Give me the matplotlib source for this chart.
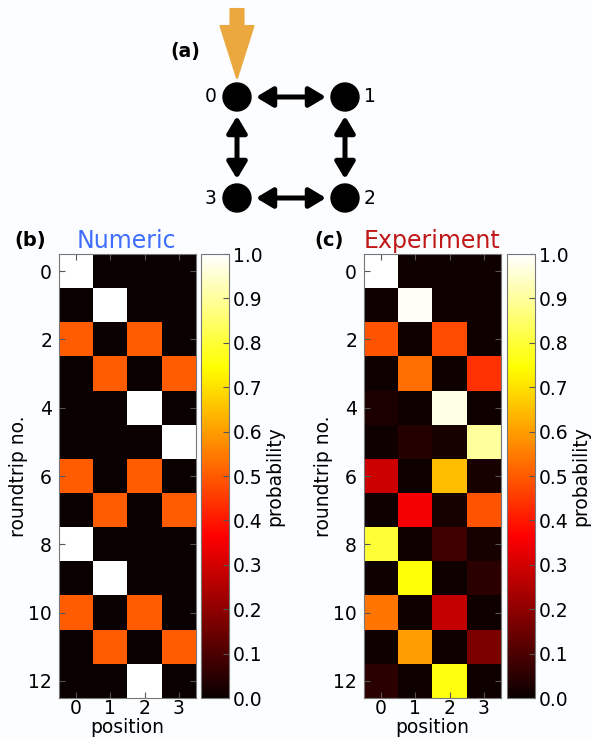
import numpy as np
import matplotlib
matplotlib.use("Agg")
import matplotlib.pyplot as plt
from matplotlib.patches import FancyArrowPatch, Circle, FancyArrow

# ---------------- data ----------------
positions = [0, 1, 2, 3]
roundtrips = list(range(13))
ytick_vals = [0, 2, 4, 6, 8, 10, 12]
cbar_ticks = [0.0, 0.1, 0.2, 0.3, 0.4, 0.5, 0.6, 0.7, 0.8, 0.9, 1.0]

numeric = [
    [1.0, 0.0, 0.0, 0.0],
    [0.0, 1.0, 0.0, 0.0],
    [0.5, 0.0, 0.5, 0.0],
    [0.0, 0.5, 0.0, 0.5],
    [0.0, 0.0, 1.0, 0.0],
    [0.0, 0.0, 0.0, 1.0],
    [0.5, 0.0, 0.5, 0.0],
    [0.0, 0.5, 0.0, 0.5],
    [1.0, 0.0, 0.0, 0.0],
    [0.0, 1.0, 0.0, 0.0],
    [0.5, 0.0, 0.5, 0.0],
    [0.0, 0.5, 0.0, 0.5],
    [0.0, 0.0, 1.0, 0.0],
]

experiment = [
    [1.00, 0.01, 0.01, 0.01],
    [0.01, 0.99, 0.01, 0.01],
    [0.49, 0.01, 0.48, 0.01],
    [0.01, 0.53, 0.01, 0.44],
    [0.03, 0.01, 0.97, 0.01],
    [0.01, 0.04, 0.02, 0.90],
    [0.29, 0.01, 0.65, 0.02],
    [0.01, 0.35, 0.02, 0.49],
    [0.80, 0.01, 0.08, 0.02],
    [0.01, 0.75, 0.01, 0.05],
    [0.54, 0.01, 0.28, 0.01],
    [0.01, 0.60, 0.01, 0.17],
    [0.05, 0.01, 0.76, 0.01],
]

node_labels = ["0", "1", "2", "3"]
# grid layout of the ring (column, row)
node_grid = [(0, 0), (1, 0), (1, 1), (0, 1)]
edges = [(0, 1), (1, 2), (2, 3), (3, 0)]

# ---------------- figure ----------------
W, H = 592, 738
bg = "#fbfdff"
fig = plt.figure(figsize=(W / 100, H / 100), dpi=100, facecolor=bg)
FS = 13.5

# ---- panel (a): ring diagram ----
axd = fig.add_axes([0, 1 - 230 / H, 1, 230 / H])
axd.set_xlim(0, W)
axd.set_ylim(230, 0)
axd.axis("off")
axd.set_facecolor(bg)

x0, y0, dx, dy, r = 237, 97, 108, 101, 14
xy = [(x0 + c * dx, y0 + rr * dy) for c, rr in node_grid]
for (px, py) in xy:
    axd.add_patch(Circle((px, py), r, color="black", zorder=3))

for a, b in edges:
    (xa, ya), (xb, yb) = xy[a], xy[b]
    L = np.hypot(xb - xa, yb - ya)
    ux, uy = (xb - xa) / L, (yb - ya) / L
    gap = r + 5
    axd.add_patch(FancyArrowPatch((xa + ux * gap, ya + uy * gap),
                                  (xb - ux * gap, yb - uy * gap),
                                  arrowstyle="<|-|>,head_length=10,head_width=6",
                                  mutation_scale=1, lw=3.6, color="black",
                                  shrinkA=0, shrinkB=0, zorder=2))

# label offsets
offs = [(-26, 0), (25, 0), (25, 0), (-26, 0)]
for (px, py), lab, (ox, oy) in zip(xy, node_labels, offs):
    axd.text(px + ox, py + oy, lab, fontsize=FS, ha="center", va="center")

# orange input arrow
axd.add_patch(FancyArrow(x0, 9, 0, 69, width=13, head_width=33, head_length=52,
                         length_includes_head=True, color="#eba83f", lw=1.5,
                         joinstyle="round", zorder=4))
axd.text(185, 52, "(a)", fontsize=FS, fontweight="bold", ha="center", va="center")


def heat(left, cleft, data, title, tcolor, tag, tagx, titlex):
    ax = fig.add_axes([left / W, 1 - 698 / H, 137 / W, 444 / H])
    cax = fig.add_axes([cleft / W, 1 - 698 / H, 28 / W, 444 / H])
    im = ax.imshow(np.array(data), cmap="hot", vmin=0, vmax=1,
                   aspect="auto", interpolation="nearest")
    ax.set_xticks(positions)
    ax.set_yticks(ytick_vals)
    ax.tick_params(direction="in", top=True, right=True, labelsize=FS,
                   length=4, color="#555555")
    ax.tick_params(axis="x", pad=1)
    ax.tick_params(axis="y", pad=5)
    for s in ax.spines.values():
        s.set_color("#777777")
    ax.set_xlabel("position", fontsize=FS, labelpad=0)
    ax.set_ylabel("roundtrip no.", fontsize=FS, labelpad=0)
    cb = fig.colorbar(im, cax=cax, ticks=cbar_ticks)
    cb.ax.tick_params(direction="in", labelsize=FS, length=4, color="#555555", pad=3)
    cb.outline.set_edgecolor("#777777")
    cb.set_label("probability", fontsize=FS, labelpad=2)
    fig.text(titlex / W, 1 - 241 / H, title, color=tcolor, fontsize=17,
             ha="center", va="center")
    fig.text(tagx / W, 1 - 241 / H, tag, fontsize=FS + 0.5, fontweight="bold",
             ha="center", va="center")
    return ax


heat(59, 201, numeric, "Numeric", "#3f6eff", "(b)", 30, 126)
heat(364, 507, experiment, "Experiment", "#c01818", "(c)", 329, 432)

fig.savefig("out.png", dpi=100, facecolor=bg)
